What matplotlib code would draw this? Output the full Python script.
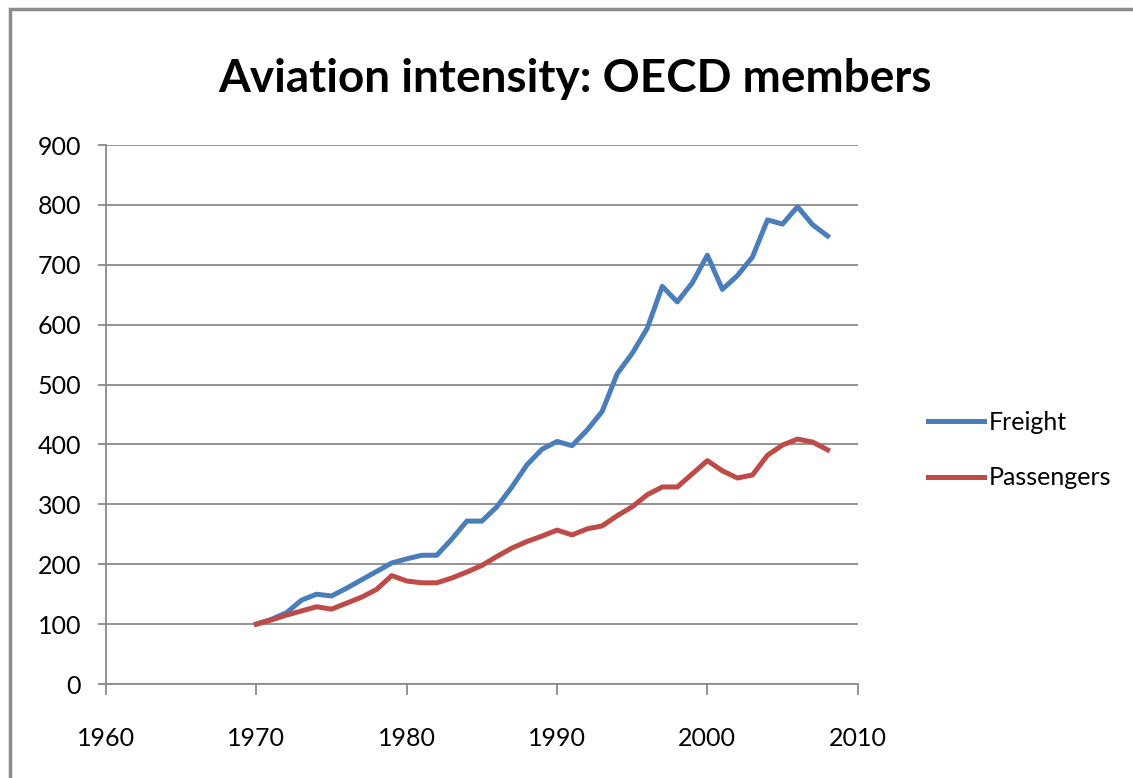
import matplotlib.pyplot as plt
from matplotlib.patches import Rectangle

years = list(range(1970, 2009))

freight = [100, 108, 119, 140, 150, 147, 160, 174, 188, 202,
           209, 215, 215, 242, 272, 272, 296, 329, 366, 392,
           405, 398, 424, 455, 518, 552, 594, 664, 638, 670,
           716, 659, 682, 713, 775, 768, 797, 767, 748]

passengers = [100, 107, 115, 122, 129, 125, 135, 145, 158, 181,
              172, 169, 169, 177, 187, 198, 213, 227, 238, 247,
              257, 249, 259, 264, 281, 296, 316, 329, 329, 351,
              373, 356, 344, 349, 382, 399, 409, 404, 391]

plt.rcParams['font.family'] = ['Lato', 'DejaVu Sans']

fig = plt.figure(figsize=(11.33, 7.78), dpi=100)
ax = fig.add_axes([0.0936, 0.1208, 0.6634, 0.6928])

# outer chart frame
fig.patches.append(Rectangle((10 / 1133, -0.01), 1.1, 1 - 9 / 778 + 0.01,
                             transform=fig.transFigure, fill=False,
                             edgecolor='#8c8c8c', linewidth=2.5))

ax.plot(years, freight, color='#4a7ebb', linewidth=3.6, label='Freight')
ax.plot(years, passengers, color='#be4b48', linewidth=3.6, label='Passengers')

ax.set_xlim(1960, 2010)
ax.set_ylim(0, 900)
ax.set_xticks(range(1960, 2011, 10))
ax.set_yticks(range(0, 901, 100))
ax.yaxis.grid(True, color='#8a8a8a', linewidth=1.3)
ax.set_axisbelow(True)

for s in ['top', 'right']:
    ax.spines[s].set_visible(False)
for s in ['left', 'bottom']:
    ax.spines[s].set_color('#8a8a8a')
    ax.spines[s].set_linewidth(1.3)
ax.tick_params(axis='both', colors='#8a8a8a', labelcolor='black',
               labelsize=18, width=1.3)
ax.tick_params(axis='x', length=8, pad=23)
ax.tick_params(axis='y', length=6, pad=12)

fig.text(575 / 1133, 1 - 92 / 778, 'Aviation intensity: OECD members', ha='center',
         va='baseline', fontsize=33, fontweight='bold')

fig.legend(loc='center left', bbox_to_anchor=(915 / 1133, 1 - 450 / 778),
           frameon=False, borderpad=0, fontsize=18, handlelength=2.25,
           labelspacing=1.3, handletextpad=0.2)

fig.savefig('out.png', dpi=100)
